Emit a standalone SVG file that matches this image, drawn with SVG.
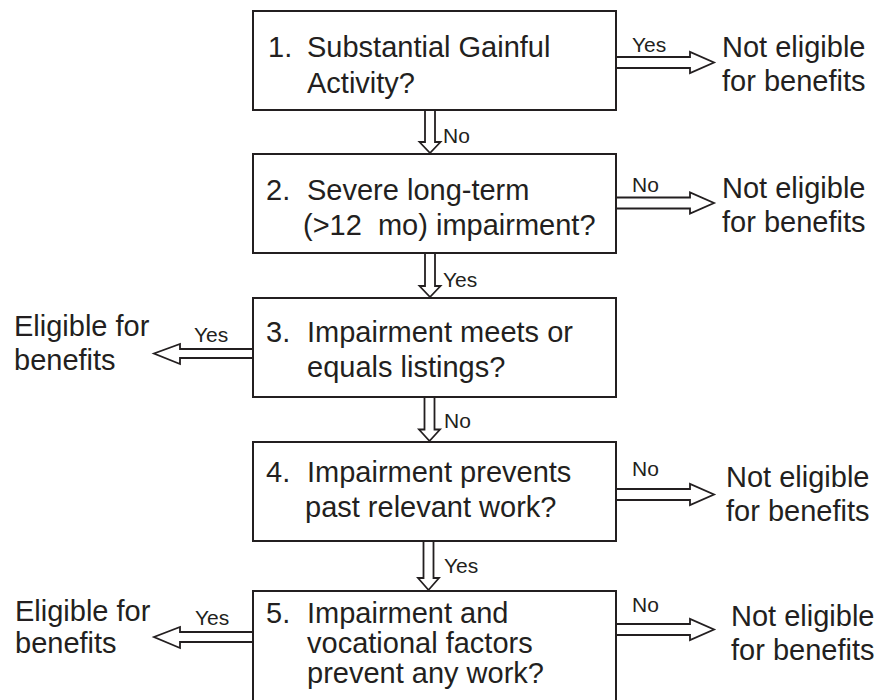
<svg xmlns="http://www.w3.org/2000/svg" width="878" height="700" viewBox="0 0 878 700">
<style>
.box{fill:#fff;stroke:#231f20;stroke-width:2}
.arr{fill:#fff;stroke:#231f20;stroke-width:1.8;stroke-linejoin:miter}
.t{font-family:"Liberation Sans",Arial,sans-serif;font-size:29px;fill:#231f20}
.l{font-family:"Liberation Sans",Arial,sans-serif;font-size:21px;fill:#231f20}
</style>
<rect width="878" height="700" fill="#fff"/>
<g id="connectors">
  <path class="arr" d="M425,110 V142 H419.5 L430,153 L440.5,142 H435 V110"/>
  <path class="arr" d="M425,253 V286 H419.5 L430,297 L440.5,286 H435 V253"/>
  <path class="arr" d="M424.5,397 V429.5 H419 L429.5,441 L440,429.5 H434.5 V397"/>
  <path class="arr" d="M423.5,541 V578 H418 L428.5,590 L439,578 H433.5 V541"/>
  <path class="arr" d="M616,57 H690 V52 L714,62.5 L690,73 V68 H616"/>
  <path class="arr" d="M616,197.5 H690 V192.5 L714,203 L690,213.5 V208.5 H616"/>
  <path class="arr" d="M616,489 H690 V484 L714,494.5 L690,505 V500 H616"/>
  <path class="arr" d="M616,624 H690 V619 L714,629.5 L690,640 V635 H616"/>
  <path class="arr" d="M253,349 H180 V344 L154,353.5 L180,364 V358 H253"/>
  <path class="arr" d="M253,632 H180 V627 L154,637 L180,648 V642 H253"/>
  <text class="l" x="443" y="143">No</text>
  <text class="l" x="443" y="287">Yes</text>
  <text class="l" x="444" y="428">No</text>
  <text class="l" x="444" y="573">Yes</text>
  <text class="l" x="632" y="52">Yes</text>
  <text class="l" x="632" y="192">No</text>
  <text class="l" x="632" y="476">No</text>
  <text class="l" x="632" y="612">No</text>
  <text class="l" x="194" y="342">Yes</text>
  <text class="l" x="195" y="625">Yes</text>
</g>
<g id="step1">
  <rect class="box" x="253" y="11" width="363" height="99"/>
  <text class="t" x="268" y="57">1.</text>
  <text class="t" x="307" y="57">Substantial Gainful</text>
  <text class="t" x="307" y="93">Activity?</text>
</g>
<g id="step2">
  <rect class="box" x="253" y="154" width="363" height="99"/>
  <text class="t" x="266" y="200">2.</text>
  <text class="t" x="307" y="200">Severe long-term</text>
  <text class="t" x="303" y="235" xml:space="preserve">(&gt;12  mo) impairment?</text>
</g>
<g id="step3">
  <rect class="box" x="253" y="298" width="363" height="99"/>
  <text class="t" x="266" y="342">3.</text>
  <text class="t" x="307" y="342">Impairment meets or</text>
  <text class="t" x="307" y="377">equals listings?</text>
</g>
<g id="step4">
  <rect class="box" x="253" y="442" width="363" height="99"/>
  <text class="t" x="266" y="482">4.</text>
  <text class="t" x="307" y="482">Impairment prevents</text>
  <text class="t" x="305" y="517">past relevant work?</text>
</g>
<g id="step5">
  <rect class="box" x="253" y="591" width="363" height="112"/>
  <text class="t" x="266" y="623">5.</text>
  <text class="t" x="307" y="623">Impairment and</text>
  <text class="t" x="307" y="653">vocational factors</text>
  <text class="t" x="307" y="683">prevent any work?</text>
</g>
<g id="out1">
  <text class="t" x="722" y="57">Not eligible</text>
  <text class="t" x="722" y="91">for benefits</text>
</g>
<g id="out2">
  <text class="t" x="722" y="198">Not eligible</text>
  <text class="t" x="722" y="232">for benefits</text>
</g>
<g id="out3">
  <text class="t" x="14" y="336">Eligible for</text>
  <text class="t" x="14" y="370">benefits</text>
</g>
<g id="out4">
  <text class="t" x="726" y="487">Not eligible</text>
  <text class="t" x="726" y="521">for benefits</text>
</g>
<g id="out5">
  <text class="t" x="15" y="621">Eligible for</text>
  <text class="t" x="15" y="653">benefits</text>
</g>
<g id="out6">
  <text class="t" x="731" y="626">Not eligible</text>
  <text class="t" x="731" y="660">for benefits</text>
</g>
</svg>
